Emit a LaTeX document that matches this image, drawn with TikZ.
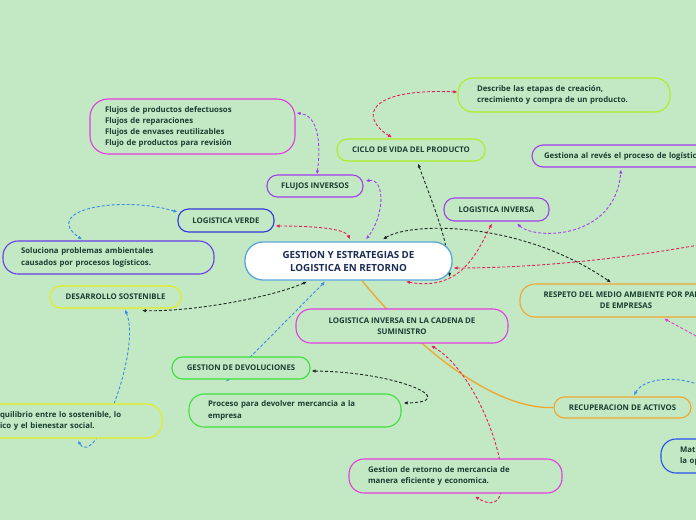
\documentclass[tikz,border=0pt]{standalone}
\usepackage{fontspec}
\setmainfont{Open Sans}
\usetikzlibrary{arrows.meta,calc}
\pgfdeclarelayer{back}
\pgfdeclarelayer{links}
\pgfsetlayers{back,links,main}
\definecolor{bgc}{HTML}{C2E8C4}
\definecolor{txt}{HTML}{1A3F33}
\definecolor{navy}{HTML}{1B2C55}
\definecolor{mainb}{HTML}{5AA5DC}
\definecolor{purp}{HTML}{A23FEA}
\definecolor{magc}{HTML}{E43BE0}
\definecolor{bluev}{HTML}{3535DC}
\definecolor{solc}{HTML}{6A3CEA}
\definecolor{yel}{HTML}{E6EC1E}
\definecolor{grn}{HTML}{3FE03A}
\definecolor{org}{HTML}{F2A62E}
\definecolor{matc}{HTML}{2450EE}
\definecolor{lime}{HTML}{ABEE25}
\definecolor{lred}{HTML}{E8205A}
\definecolor{lpur}{HTML}{A540F0}
\definecolor{lblue}{HTML}{3A8AE6}
\definecolor{lblack}{HTML}{1E2A22}
\definecolor{lpink}{HTML}{E040C8}
\tikzset{
  topic/.style={draw, line width=1.1pt, rounded corners=10.5pt, fill=bgc, text=txt,
    font=\fontsize{7.8}{11}\selectfont\bfseries, align=center, inner sep=0pt},
  desc/.style={draw, line width=1.1pt, rounded corners=15pt, fill=bgc, text=txt,
    font=\fontsize{7.8}{11.5}\selectfont\bfseries, align=left, inner ysep=0pt},
  maintopic/.style={draw=mainb, line width=1.3pt, rounded corners=18pt, fill=white, text=navy,
    font=\fontsize{9.8}{13}\selectfont\bfseries, align=center, inner sep=0pt},
  link/.style={line width=0.9pt, dash pattern=on 3pt off 2pt,
    {Latex[length=4pt,width=3.5pt]}-{Latex[length=4pt,width=3.5pt]}},
  branch/.style={line width=1.3pt, draw=org},
}
\begin{document}
\begin{tikzpicture}[x=1pt,y=-1pt]
\begin{pgfonlayer}{back}
\fill[bgc] (0,0) rectangle (696,520);
\end{pgfonlayer}
\useasboundingbox (0,0) rectangle (696,520);

% nodes
\node[maintopic, minimum width=207pt, minimum height=38pt] (main) at (348.5,261) {GESTION Y ESTRATEGIAS DE\\LOGISTICA EN RETORNO};
\node[topic, draw=purp, minimum width=96pt, minimum height=22pt] (fi) at (315,186) {FLUJOS INVERSOS};
\node[desc, draw=magc, rounded corners=18pt, text width=175pt, inner xsep=15pt, minimum height=55pt, font=\fontsize{7.8}{11}\selectfont\bfseries] (flu) at (192.5,126.5) {Flujos de productos defectuosos\\Flujos de reparaciones\\Flujos de envases reutilizables\\Flujo de productos para revisión};
\node[topic, draw=bluev, minimum width=96pt, minimum height=23pt] (lv) at (226,220.5) {LOGISTICA VERDE};
\node[desc, draw=solc, text width=175pt, inner xsep=18pt, minimum height=33pt] (sol) at (108.5,257.5) {Soluciona problemas ambientales\\causados por procesos logísticos.};
\node[topic, draw=yel, minimum width=131pt, minimum height=22pt] (ds) at (115.5,297) {DESARROLLO SOSTENIBLE};
\node[desc, draw=yel, text width=142pt, inner xsep=20pt, minimum height=34pt] (eq) at (71,421) {quilibrio entre lo sostenible, lo\\ico y el bienestar social.};
\node[topic, draw=grn, minimum width=138pt, minimum height=22pt] (gdd) at (241,368) {GESTION DE DEVOLUCIONES};
\node[desc, draw=grn, text width=174pt, inner xsep=19pt, minimum height=33pt] (proc) at (295,410.5) {Proceso para devolver mercancia a la\\empresa};
\node[topic, draw=magc, rounded corners=15pt, minimum width=212pt, minimum height=34pt] (lics) at (402,326) {LOGISTICA INVERSA EN LA CADENA DE\\SUMINISTRO};
\node[desc, draw=magc, text width=175pt, inner xsep=19pt, minimum height=34pt] (ret) at (455.5,476) {Gestion de retorno de mercancia de\\manera eficiente y economica.};
\node[topic, draw=org, rounded corners=15pt, minimum width=212pt, minimum height=33pt] (resp) at (626,300.5) {RESPETO DEL MEDIO AMBIENTE POR PARTE\\DE EMPRESAS};
\node[topic, draw=org, minimum width=137pt, minimum height=21pt] (ra) at (622.5,407.5) {RECUPERACION DE ACTIVOS};
\node[desc, draw=matc, text width=174pt, inner xsep=19pt, minimum height=34pt] (mat) at (767,456) {Mat\\la op};
\node[topic, draw=lime, minimum width=148pt, minimum height=22pt] (ciclo) at (411,150) {CICLO DE VIDA DEL PRODUCTO};
\node[desc, draw=lime, text width=174pt, inner xsep=19pt, minimum height=34pt] (descr) at (564,95) {Describe las etapas de creación,\\crecimiento y compra de un producto.};
\node[topic, draw=purp, minimum width=105pt, minimum height=23pt] (li) at (496.5,209.5) {LOGISTICA INVERSA};
\node[desc, draw=purp, rounded corners=11pt, text width=188pt, inner xsep=12pt, minimum height=22pt] (gest) at (638,156) {Gestiona al revés el proceso de logística};

\coordinate (offr) at (745,236);
\coordinate (offp) at (722,350);
\coordinate (offb) at (712,392);

\begin{pgfonlayer}{links}
% orange branch
\draw[branch] ($(main.south)+(13.5,0)$) .. controls (410,340) and (490,410) .. (ra.west);
% black
\draw[link, draw=lblack] ($(main.south)+(-41.5,1)$) .. controls (270,298) and (190,312) .. ($(ds.south)+(26.5,2)$);
\draw[link, draw=lblack] ($(ciclo.south)+(7,2)$) .. controls (435,210) and (448,240) .. ($(main.east)+(-3,16)$);
\draw[link, draw=lblack] ($(main.north)+(34.5,-2)$) .. controls (410,222) and (520,220) .. ($(resp.north)+(-15,-1)$);
\draw[link, draw=lblack] ($(gdd.east)+(1,3)$) .. controls (400,372) and (462,402) .. ($(proc.east)+(2,-7.5)$);
% blue
\draw[link, draw=lblue] ($(main.south)+(-23.5,1)$) -- ($(gdd.south)+(-15,2)$);
\draw[link, draw=lblue] ($(ds.south)+(9.5,1)$) .. controls (142,350) and (95,470) .. ($(eq.south)+(7,2)$);
\draw[link, draw=lblue] ($(lv.west)+(0,-8.5)$) .. controls (120,195) and (40,210) .. ($(sol.north)+(-26.5,-1)$);
\draw[link, draw=lblue, {Latex[length=4pt,width=3.5pt]}-] ($(ra.north)+(11.5,-1)$) .. controls (645,375) and (690,375) .. (offb);
% red
\draw[link, draw=lred] ($(lv.east)+(1,5.5)$) .. controls (310,226) and (345,228) .. ($(main.north)+(1.5,-2)$);
\draw[link, draw=lred] ($(ciclo.north)+(-19,-1)$) .. controls (360,118) and (365,88) .. ($(descr.west)+(0,-3)$);
\draw[link, draw=lred] ($(li.south)+(-4.5,2)$) .. controls (478,250) and (462,292) .. ($(main.south)+(57.5,1)$);
\draw[link, draw=lred, {Latex[length=4pt,width=3.5pt]}-] ($(main.east)+(1,7)$) .. controls (520,268) and (620,262) .. (offr);
\draw[link, draw=lred] ($(lics.south)+(29,2)$) .. controls (490,380) and (530,530) .. ($(ret.south)+(19.5,3)$);
% purple
\draw[link, draw=lpur] ($(fi.north)+(2,0)$) .. controls (322,135) and (315,115) .. ($(flu.east)+(1,-13.5)$);
\draw[link, draw=lpur] ($(fi.east)+(2,-5)$) .. controls (385,178) and (385,215) .. ($(main.north)+(17.5,-2)$);
\draw[link, draw=lpur] ($(li.south)+(20.5,2)$) .. controls (535,240) and (615,240) .. ($(gest.south)+(-17,2)$);
% pink
\draw[link, draw=lpink, {Latex[length=4pt,width=3.5pt]}-] ($(resp.south)+(38,1)$) -- (offp);
\end{pgfonlayer}
\end{tikzpicture}
\end{document}
